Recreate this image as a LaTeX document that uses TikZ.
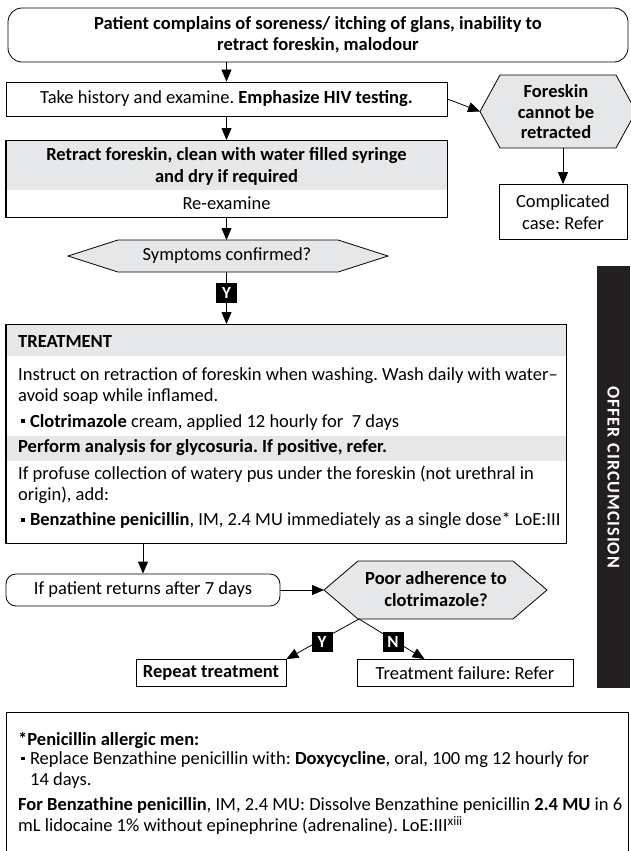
\documentclass[tikz,border=0pt]{standalone}
\usepackage{fontspec}
\setmainfont{Carlito}
\usetikzlibrary{arrows.meta,calc}
\definecolor{boxgray}{HTML}{E6E7E8}
\definecolor{bardark}{HTML}{231F20}
\newcommand{\sqb}{\hspace{3pt}\raisebox{0.22em}{\rule{3.8pt}{3.8pt}}\hspace{5pt}}
\frenchspacing
\begin{document}
\begin{tikzpicture}[x=1pt,y=-1pt,
  font=\fontsize{18.5}{21}\selectfont,
  frame/.style={draw,line width=0.8pt,inner sep=0pt},
  arr/.style={line width=0.8pt,-{Triangle[length=12pt,width=10pt]}},
  conn/.style={line width=0.8pt},
  yn/.style={fill=black,text=white,font=\fontsize{17}{18}\selectfont\bfseries,
    minimum width=21pt,minimum height=20pt,inner sep=0pt},
  txt/.style={inner sep=0pt,align=center},
  ltxt/.style={inner sep=0pt,anchor=west,align=left}]
\useasboundingbox (0,0) rectangle (630,851);

% entry point
\node[frame,rounded corners=14pt,minimum width=620pt,minimum height=54pt,
  font=\fontsize{18.5}{21}\selectfont\bfseries,align=center] (start) at (318,35)
  {Patient complains of soreness/ itching of glans, inability to\\retract foreskin, malodour};

% history
\node[frame,minimum width=441pt,minimum height=34pt] (hist) at (226.5,99)
  {Take history and examine. \textbf{Emphasize HIV testing.}};

% foreskin cannot be retracted
\coordinate (fL) at (480,111.5);
\coordinate (fTL) at (500,75);
\coordinate (fTR) at (616,75);
\coordinate (fR) at (636,111.5);
\coordinate (fBR) at (616,148);
\coordinate (fBL) at (500,148);
\draw[conn,fill=boxgray] (fL)--(fTL)--(fTR)--(fR)--(fBR)--(fBL)--cycle;
\node[txt,font=\fontsize{18.5}{20.5}\selectfont\bfseries] (fore) at (556,112)
  {Foreskin\\cannot be\\retracted};
\coordinate (fB) at (563,148);

\node[frame,minimum width=128pt,minimum height=55pt,align=center,
  font=\fontsize{18.5}{22.5}\selectfont] (compl) at (563,212)
  {Complicated\\case: Refer};

% retract and clean
\node[frame,fill=boxgray,minimum width=441pt,minimum height=77pt,anchor=north] (retr) at (226.5,140) {};
\fill[white] (6.5,190) rectangle (446.5,216.6);
\draw[conn] (retr.north west) rectangle (retr.south east);
\node[txt,font=\fontsize{18.5}{22}\selectfont\bfseries] (retrt) at (226.5,166)
  {Retract foreskin, clean with water filled syringe\\and dry if required};
\node[txt] (reex) at (226.5,203) {Re-examine};

% symptoms confirmed
\coordinate (sL) at (68,256);
\coordinate (sTL) at (118,240);
\coordinate (sTR) at (338,240);
\coordinate (sR) at (388,256);
\coordinate (sBR) at (338,272);
\coordinate (sBL) at (118,272);
\draw[conn,fill=boxgray] (sL)--(sTL)--(sTR)--(sR)--(sBR)--(sBL)--cycle;
\node[txt] (sympt) at (227,256) {Symptoms confirmed?};
\coordinate (sT) at (226.5,240);
\coordinate (sB) at (226.5,272);

% treatment block
\node[frame,minimum width=560pt,minimum height=219pt,anchor=north] (treat) at (286,324) {};
\fill[boxgray] (6.5,324.5) rectangle (565.5,356);
\fill[boxgray] (6.5,436) rectangle (565.5,461);
\draw[conn] (treat.north west) rectangle (treat.south east);
\node[ltxt,font=\fontsize{18.5}{21}\selectfont\bfseries] (tt) at (18,341) {TREATMENT};
\node[ltxt] (t1) at (18,386) {Instruct on retraction of foreskin when washing. Wash daily with water--\\avoid soap while inflamed.};
\node[ltxt] (t2) at (18,422) {\sqb\textbf{Clotrimazole} cream, applied 12 hourly for~ 7 days};
\node[ltxt,font=\fontsize{18.5}{21}\selectfont\bfseries] (t3) at (18,448) {Perform analysis for glycosuria. If positive, refer.};
\node[ltxt] (t4) at (18,485) {If profuse collection of watery pus under the foreskin (not urethral in\\origin), add:};
\node[ltxt] (t5) at (18,521) {\sqb\textbf{Benzathine penicillin}, IM, 2.4 MU immediately as a single dose* LoE:III};

% follow-up
\node[frame,rounded corners=10pt,minimum width=274pt,minimum height=32pt] (ret) at (143,590)
  {If patient returns after 7 days};

\coordinate (pL) at (324,590);
\coordinate (pTL) at (358,561);
\coordinate (pTR) at (513,561);
\coordinate (pR) at (547,590);
\coordinate (pBR) at (513,619);
\coordinate (pBL) at (358,619);
\draw[conn,fill=boxgray] (pL)--(pTL)--(pTR)--(pR)--(pBR)--(pBL)--cycle;
\node[txt,font=\fontsize{18.5}{21.5}\selectfont\bfseries] (poor) at (436,589)
  {Poor adherence to\\clotrimazole?};
\coordinate (pS) at (359,619);

\node[frame,minimum width=150pt,minimum height=27pt,font=\fontsize{18.5}{21}\selectfont\bfseries] (rep) at (211,673)
  {Repeat treatment};
\node[frame,minimum width=216pt,minimum height=27pt] (fail) at (465,673)
  {Treatment failure: Refer};

% side bar
\node[fill=bardark,minimum width=33pt,minimum height=422pt,inner sep=0pt] (bar) at (613.5,477) {};
\node[rotate=-90,text=white,font=\fontsize{18}{18}\selectfont\bfseries] (bart) at (bar.center)
  {O\kern1ptF\kern1ptF\kern1ptE\kern1ptR\hspace{6pt}C\kern1ptI\kern1ptR\kern1ptC\kern1ptU\kern1ptM\kern1ptC\kern1ptI\kern1ptS\kern1ptI\kern1ptO\kern1ptN};

% footnote block
\begin{scope}
\clip (0,0) rectangle (630,851);
\draw[conn] (6,870) -- (6,712) -- (628,712) -- (628,870);
\end{scope}
\coordinate (foot) at (6,712);
\node[ltxt,font=\fontsize{18.5}{21}\selectfont\bfseries] (f1) at (18,740) {*Penicillin allergic men:};
\node[ltxt] (f2) at (18,770) {\sqb Replace Benzathine penicillin with: \textbf{Doxycycline}, oral, 100 mg 12 hourly for\\\hspace*{12pt}14 days.};
\node[ltxt] (f3) at (18,816) {\textbf{For Benzathine penicillin}, IM, 2.4 MU: Dissolve Benzathine penicillin \textbf{2.4 MU} in 6\\mL lidocaine 1\% without epinephrine (adrenaline). LoE:III\textsuperscript{xiii}};

% connectors
\draw[arr] (start.south -| hist.north) -- (hist.north);
\draw[arr] (hist.east) -- (fL);
\draw[arr] (fB) -- (compl.north);
\draw[arr] (hist.south) -- (retr.north);
\draw[arr] (retr.south) -- (sT);
\draw[arr] (sB) -- (sB |- treat.north);
\node[yn] (y1) at (226.5,292.5) {Y};
\draw[arr] (treat.south west -| ret.north) -- (ret.north);
\draw[arr] (ret.east) -- (pL);
\draw[arr] (pS) -- (rep.north east);
\draw[arr] (pS) -- ($(fail.north west)+(68,0)$);
\node[yn] (y2) at (322,642) {Y};
\node[yn] (n2) at (393,642) {N};
\end{tikzpicture}
\end{document}
